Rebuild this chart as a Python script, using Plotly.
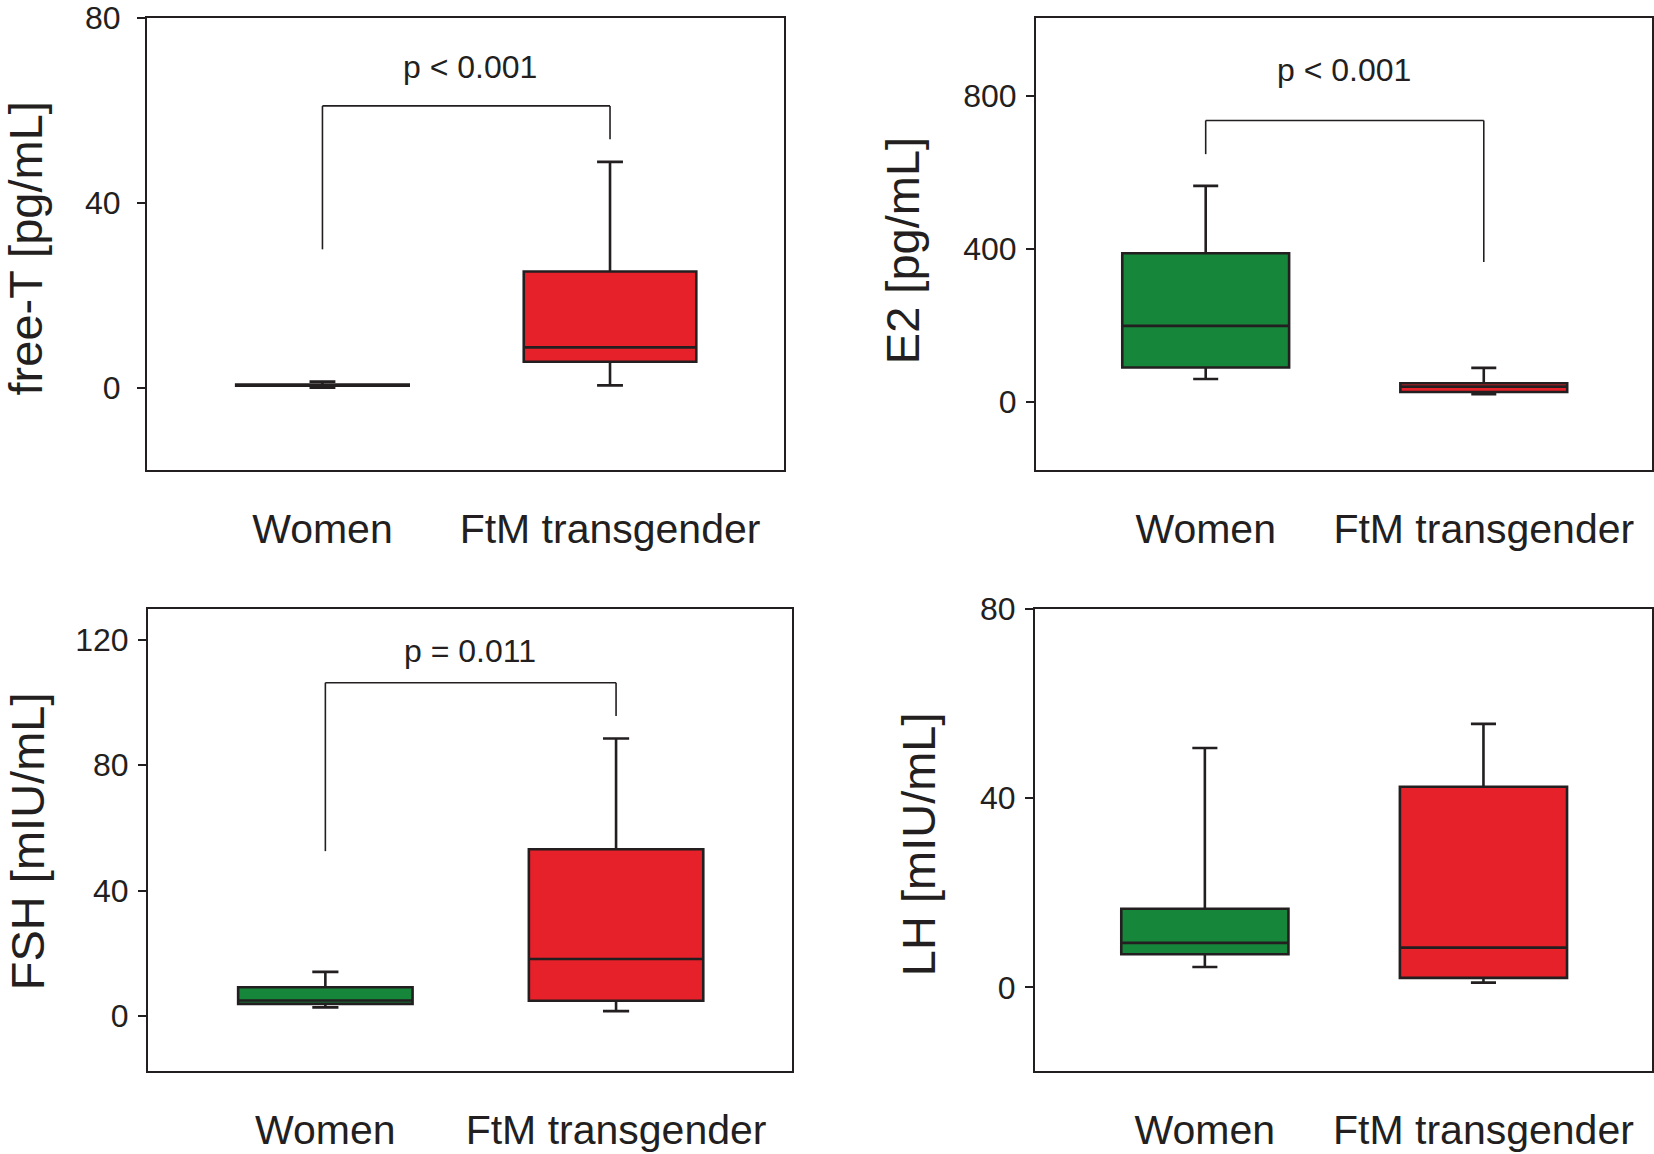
import plotly.graph_objects as go

# ---------------- data ----------------
groups = ["Women", "FtM transgender"]
panel_titles = ["free-T [pg/mL]", "E2 [pg/mL]", "FSH [mIU/mL]", "LH [mIU/mL]"]

# box statistics per panel: [Women, FtM]
lower = [[0.1, 0.6], [60, 20], [2.8, 1.6], [4.3, 1.0]]
q1 = [[0.5, 5.7], [90, 26], [3.9, 4.9], [7.0, 2.0]]
median = [[0.65, 8.8], [199, 40], [5.0, 18.2], [9.4, 8.4]]
q3 = [[0.8, 25.2], [389, 49], [9.2, 53.2], [16.6, 42.4]]
upper = [[1.4, 48.9], [565, 89], [14.1, 88.5], [50.6, 55.7]]

y_ranges = [[-17.7, 80], [-178, 1004], [-17.5, 129.8], [-17.7, 80]]
y_ticks = [[0, 40, 80], [0, 400, 800], [0, 40, 80, 120], [0, 40, 80]]

# significance brackets: (bar height, left end, right end, label, label height)
brackets = [
    (61.0, 30.0, 53.8, "p < 0.001", 69.5),
    (736, 648, 366, "p < 0.001", 868),
    (106.3, 52.6, 95.7, "p = 0.011", 116.5),
    None,
]
label_x = [0.507, 0.5, 0.5, 0.5]

colors = ["#16873A", "#E62129"]
line_col = "#231F20"
FONT = "Liberation Sans, Arial, sans-serif"

# ---------------- layout geometry ----------------
W, H = 1654, 1154
x_domains = [[0.0889, 0.474], [0.6264, 0.9988], [0.0895, 0.4788], [0.6257, 0.9988]]
y_domains = [[0.5927, 0.9844], [0.5927, 0.9844], [0.0719, 0.4723], [0.0719, 0.4723]]
title_x = [-0.191, -0.217, -0.186, -0.1885]
title_y = [0.491, 0.485, 0.498, 0.49]
tick_standoff = [10, 3, 3, 3]

fig = go.Figure()
for p in range(4):
    ax = "" if p == 0 else str(p + 1)
    for g in range(2):
        fig.add_trace(go.Box(
            x=[groups[g]],
            q1=[q1[p][g]], median=[median[p][g]], q3=[q3[p][g]],
            lowerfence=[lower[p][g]], upperfence=[upper[p][g]],
            fillcolor=colors[g],
            line=dict(color=line_col, width=2.6),
            whiskerwidth=0.15,
            width=0.6,
            boxpoints=False,
            showlegend=False,
            hoverinfo="skip",
            xaxis="x" + ax, yaxis="y" + ax,
        ))
    xa = dict(
        domain=x_domains[p], anchor="y" + ax, automargin=False,
        type="category", categoryorder="array", categoryarray=groups,
        range=[-0.61, 1.605],
        showline=True, mirror=True, linecolor=line_col, linewidth=2,
        ticks="", showgrid=False, zeroline=False,
        tickfont=dict(family=FONT, size=41, color=line_col),
        ticklabelstandoff=22, ticklabeloverflow="allow",
    )
    ya = dict(
        domain=y_domains[p], anchor="x" + ax, automargin=False,
        range=y_ranges[p], tickvals=y_ticks[p],
        showline=True, mirror=True, linecolor=line_col, linewidth=2,
        ticks="outside", ticklen=8, tickwidth=2, tickcolor=line_col,
        ticklabelstandoff=tick_standoff[p], ticklabeloverflow="allow",
        showgrid=False, zeroline=False,
        tickfont=dict(family=FONT, size=32, color=line_col),
    )
    fig.layout["xaxis" + ax] = xa
    fig.layout["yaxis" + ax] = ya

    # axis title
    fig.add_annotation(
        text=panel_titles[p], textangle=-90,
        xref=("x" + ax) + " domain", yref=("y" + ax) + " domain",
        x=title_x[p], y=title_y[p], xanchor="center", yanchor="middle",
        showarrow=False, font=dict(family=FONT, size=47, color=line_col),
    )

    br = brackets[p]
    if br is not None:
        top, left_end, right_end, label, label_y = br
        xr, yr = "x" + ax, "y" + ax
        lw = dict(color=line_col, width=1.6)
        fig.add_shape(type="line", xref=xr, yref=yr, x0=groups[0], x1=groups[1],
                      y0=top, y1=top, line=lw)
        fig.add_shape(type="line", xref=xr, yref=yr, x0=groups[0], x1=groups[0],
                      y0=top, y1=left_end, line=lw)
        fig.add_shape(type="line", xref=xr, yref=yr, x0=groups[1], x1=groups[1],
                      y0=top, y1=right_end, line=lw)
        fig.add_annotation(
            text=label, xref=xr + " domain", yref=yr, x=label_x[p], y=label_y,
            xanchor="center", yanchor="middle", showarrow=False,
            font=dict(family=FONT, size=32, color=line_col),
        )

fig.update_layout(
    width=W, height=H,
    margin=dict(l=0, r=0, t=0, b=0, autoexpand=False),
    paper_bgcolor="white", plot_bgcolor="white",
    boxmode="overlay",
)

fig.write_html(
    "out.html",
    config={"displayModeBar": False},
    post_script="document.body.style.margin='0';document.body.style.overflow='hidden';",
)
